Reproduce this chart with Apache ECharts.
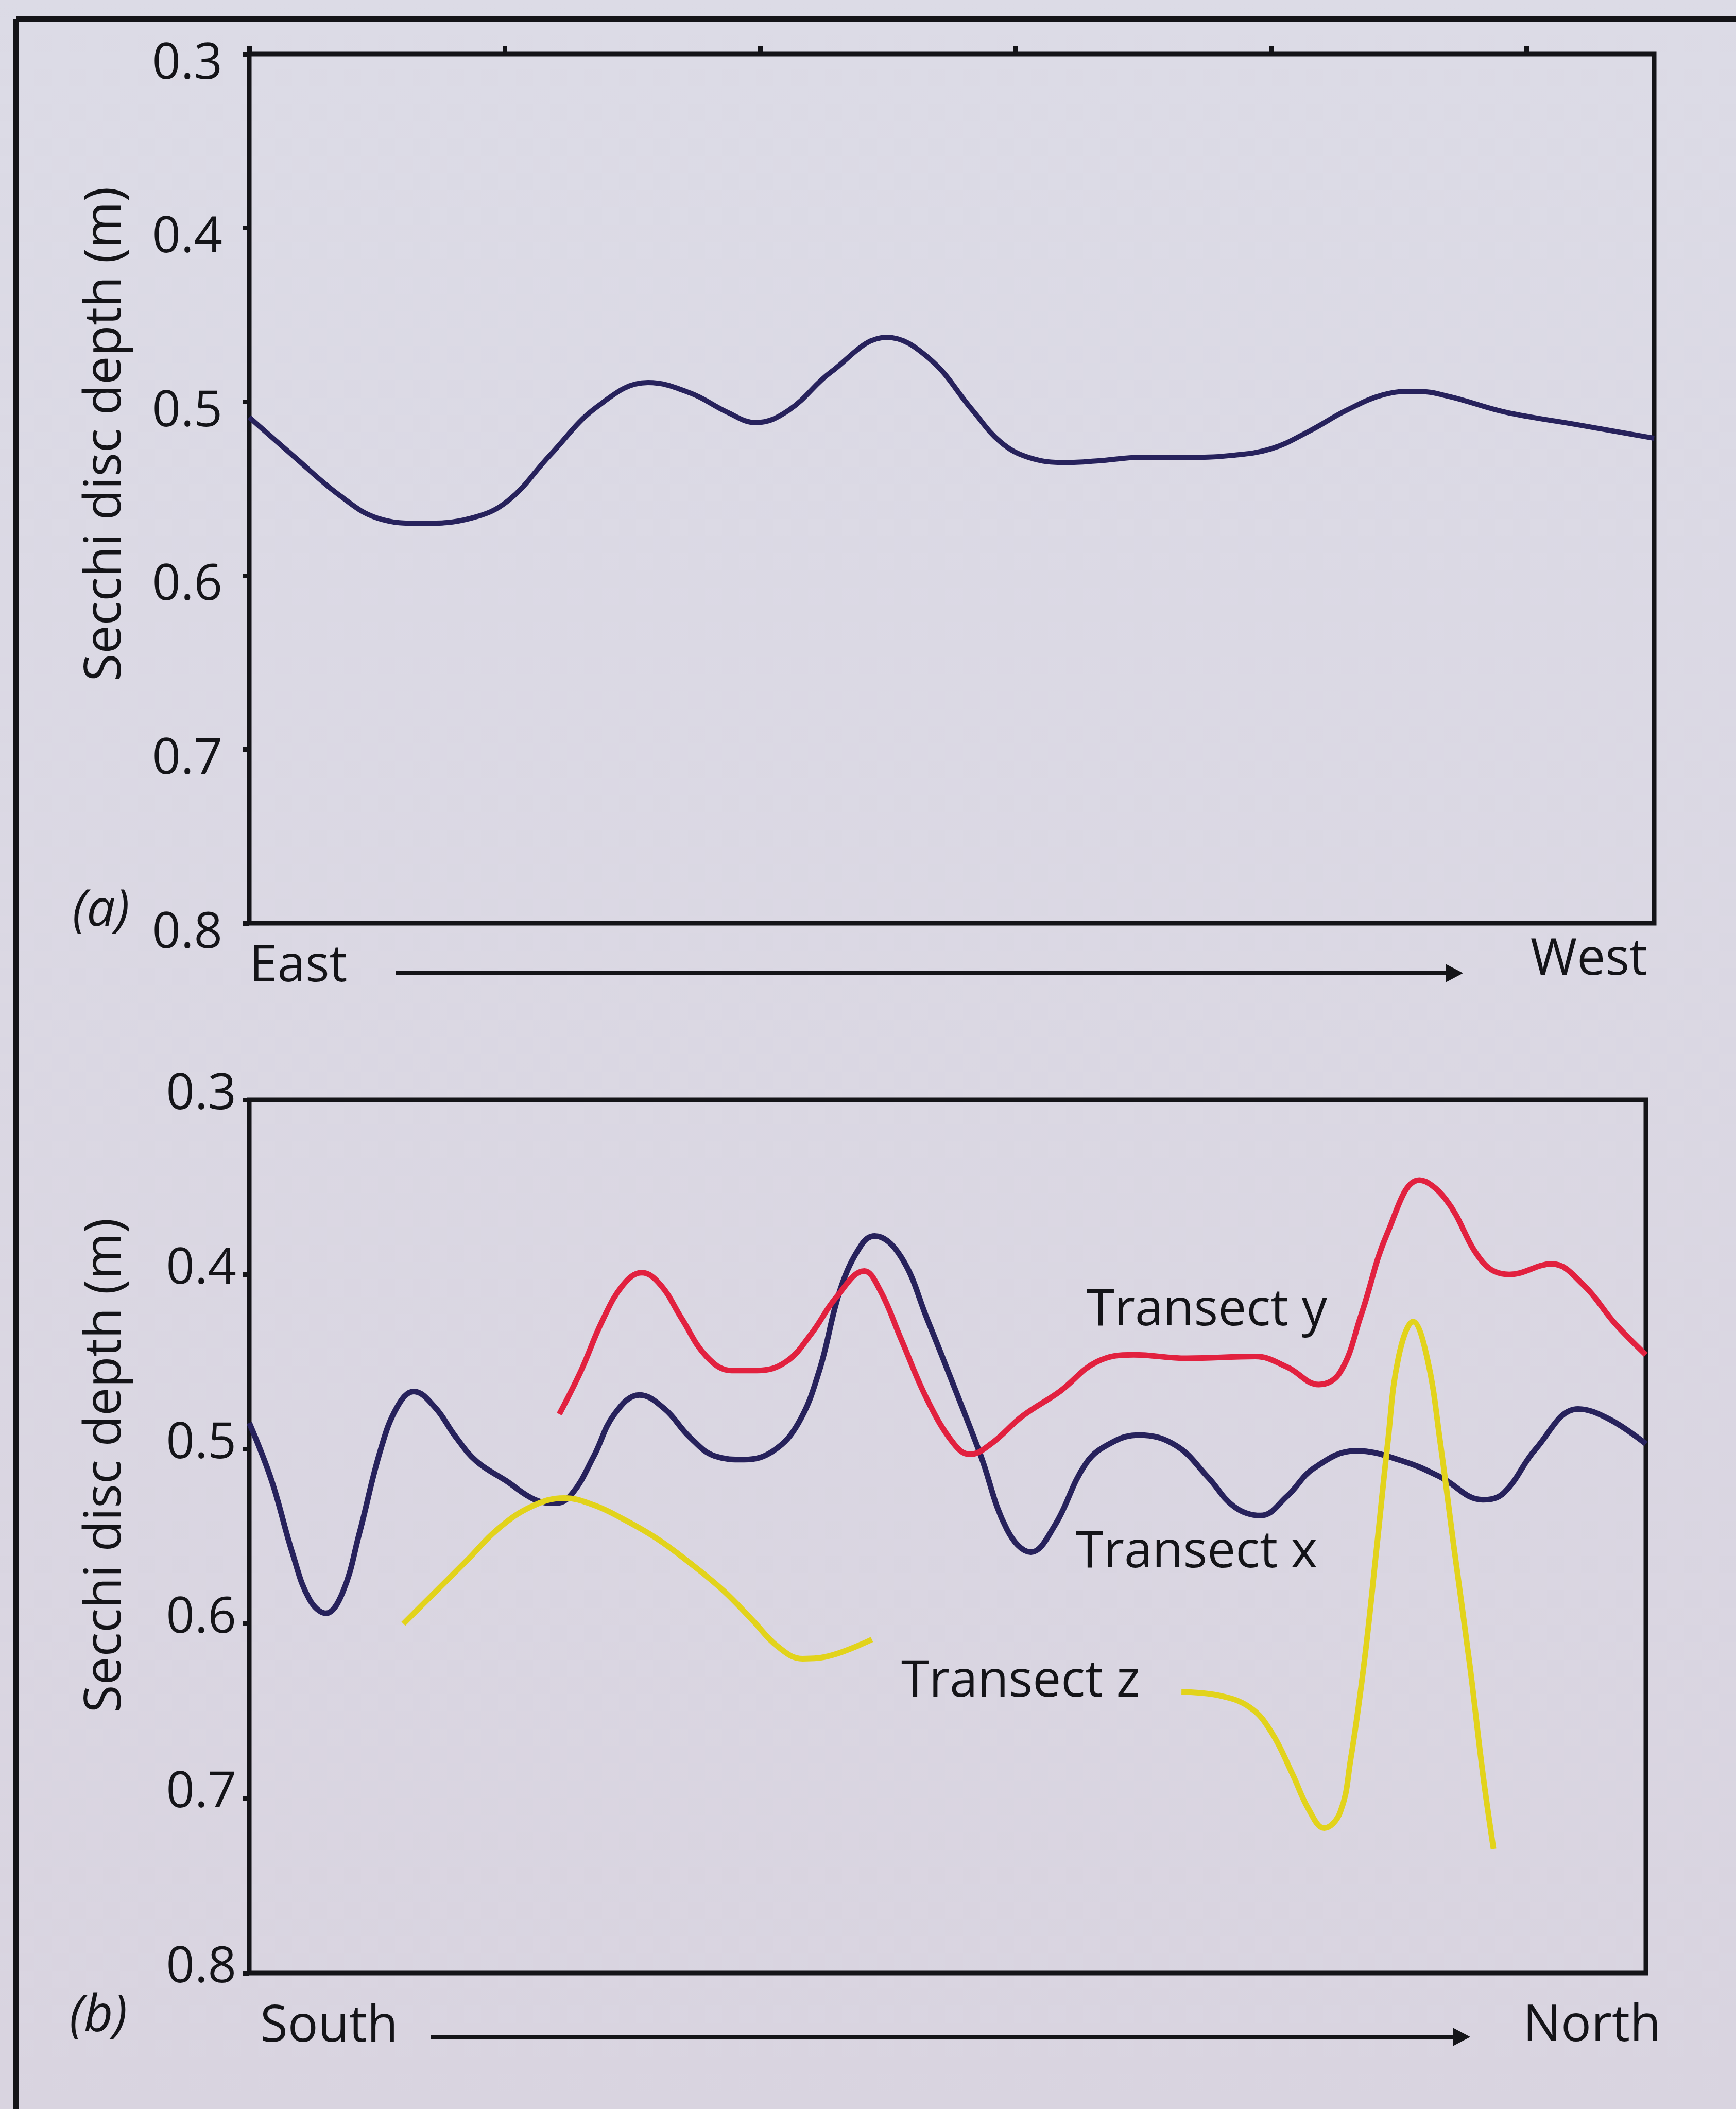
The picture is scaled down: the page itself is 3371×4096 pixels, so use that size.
<!DOCTYPE html>
<html>
<head>
<meta charset="utf-8">
<script src="https://cdn.jsdelivr.net/npm/echarts@6/dist/echarts.min.js"></script>
<style>
  html, body { margin: 0; padding: 0; background: #dad8e3; }
  #chart { width: 3371px; height: 4096px; }
</style>
</head>
<body>
<div id="chart"></div>
<script>
// Secchi disc depth profiles along two transect directions.
// Positions are relative distances along each transect (0 = East / South end).

const depthTicks = [0.3, 0.4, 0.5, 0.6, 0.7, 0.8];
const distanceTicks = [0, 1, 2, 3, 4, 5];

// (a) East -> West transect
const eastWestPos = [0, 0.171, 0.355, 0.503, 0.676, 0.869, 1.013, 1.176, 1.361, 1.561, 1.727, 1.871, 1.982, 2.111, 2.277, 2.496, 2.661, 2.832, 2.94, 3.05, 3.198, 3.324, 3.491, 3.672, 3.838, 4.002, 4.149, 4.295, 4.44, 4.57, 4.698, 4.917, 5.191, 5.5];
const eastWestDepth = [0.509, 0.531, 0.554, 0.567, 0.570, 0.567, 0.557, 0.531, 0.503, 0.489, 0.495, 0.506, 0.512, 0.505, 0.483, 0.463, 0.475, 0.505, 0.523, 0.532, 0.535, 0.534, 0.532, 0.532, 0.531, 0.527, 0.517, 0.505, 0.496, 0.494, 0.497, 0.506, 0.513, 0.521];

// (b) South -> North transects
const transectXPos = [0, 0.088, 0.171, 0.237, 0.302, 0.368, 0.434, 0.516, 0.582, 0.648, 0.731, 0.813, 0.895, 1.010, 1.125, 1.208, 1.274, 1.357, 1.438, 1.537, 1.636, 1.734, 1.834, 1.949, 2.064, 2.163, 2.245, 2.329, 2.411, 2.463, 2.567, 2.671, 2.775, 2.879, 2.984, 3.078, 3.171, 3.296, 3.400, 3.504, 3.650, 3.775, 3.879, 3.983, 4.087, 4.192, 4.358, 4.546, 4.691, 4.858, 4.941, 5.066, 5.233, 5.358, 5.5];
const transectXDepth = [0.485, 0.518, 0.560, 0.586, 0.594, 0.582, 0.548, 0.501, 0.476, 0.467, 0.476, 0.493, 0.507, 0.518, 0.529, 0.531, 0.525, 0.504, 0.480, 0.469, 0.477, 0.493, 0.504, 0.506, 0.501, 0.485, 0.455, 0.408, 0.383, 0.378, 0.390, 0.426, 0.464, 0.503, 0.546, 0.559, 0.544, 0.508, 0.496, 0.492, 0.498, 0.516, 0.533, 0.538, 0.527, 0.511, 0.501, 0.507, 0.516, 0.529, 0.525, 0.500, 0.477, 0.483, 0.497];

const transectYPos = [1.221, 1.307, 1.389, 1.472, 1.546, 1.620, 1.702, 1.801, 1.900, 1.999, 2.114, 2.213, 2.312, 2.422, 2.484, 2.567, 2.671, 2.775, 2.838, 2.921, 3.046, 3.192, 3.338, 3.483, 3.692, 3.962, 4.087, 4.212, 4.296, 4.379, 4.483, 4.608, 4.712, 4.858, 4.962, 5.129, 5.254, 5.378, 5.5];
const transectYDepth = [0.480, 0.455, 0.427, 0.406, 0.399, 0.406, 0.425, 0.447, 0.455, 0.455, 0.450, 0.434, 0.413, 0.398, 0.409, 0.437, 0.472, 0.497, 0.503, 0.497, 0.481, 0.467, 0.450, 0.446, 0.448, 0.447, 0.453, 0.463, 0.456, 0.423, 0.376, 0.346, 0.357, 0.393, 0.400, 0.394, 0.406, 0.428, 0.446];

// Transect z was sampled in two separate stretches
const transectZSouthPos = [0.607, 0.731, 0.862, 0.977, 1.110, 1.241, 1.356, 1.472, 1.603, 1.734, 1.867, 1.982, 2.081, 2.179, 2.295, 2.452];
const transectZSouthDepth = [0.600, 0.582, 0.563, 0.546, 0.533, 0.528, 0.532, 0.540, 0.551, 0.565, 0.581, 0.598, 0.613, 0.620, 0.618, 0.609];
const transectZNorthPos = [3.671, 3.817, 3.942, 4.025, 4.108, 4.171, 4.233, 4.296, 4.337, 4.390, 4.441, 4.483, 4.525, 4.583, 4.639, 4.691, 4.743, 4.806, 4.858, 4.900];
const transectZNorthDepth = [0.639, 0.641, 0.648, 0.662, 0.686, 0.706, 0.717, 0.708, 0.678, 0.623, 0.555, 0.497, 0.448, 0.427, 0.448, 0.497, 0.555, 0.623, 0.686, 0.729];

const INK = '#141418';
const NAVY = '#27225c';
const RED = '#e2213f';
const YELLOW = '#e2d31b';
const FONT = '"Open Sans", "Noto Sans", sans-serif';
const TEXT_SIZE = 98;
const TICK_SIZE = 97;

const zip = (xs, ys) => xs.map((x, i) => [x, ys[i]]);

// Depth axis; tick labels hang slightly off their tick via a short line box
function depthAxis(gridIndex, margin, vAlign, lineHeight) {
  return {
    type: 'value', gridIndex: gridIndex, inverse: true,
    min: 0.3, max: 0.8, interval: 0.1,
    axisLine: { show: false },
    axisTick: { show: true, inside: false, length: 12, customValues: depthTicks,
                lineStyle: { color: INK, width: 9 } },
    splitLine: { show: false },
    axisLabel: { show: true, margin: margin, color: INK, fontFamily: FONT, fontSize: TICK_SIZE,
                 customValues: depthTicks, verticalAlign: vAlign, lineHeight: lineHeight,
                 formatter: v => v.toFixed(1) }
  };
}

function arrow(x1, x2, y) {
  return {
    type: 'group', children: [
      { type: 'line', shape: { x1: x1, y1: y, x2: x2 - 26, y2: y },
        style: { stroke: INK, lineWidth: 8 } },
      { type: 'polygon', shape: { points: [[x2, y], [x2 - 34, y - 18], [x2 - 34, y + 18]] },
        style: { fill: INK } }
    ]
  };
}

function label(text, x, y, align, extra) {
  return Object.assign({
    type: 'text', x: x, y: y,
    style: { text: text, fill: INK, fontFamily: FONT, fontSize: TEXT_SIZE,
             align: align, verticalAlign: 'middle' }
  }, extra || {});
}

const chart = echarts.init(document.getElementById('chart'), null, { renderer: 'canvas' });

chart.setOption({
  animation: false,
  backgroundColor: {
    type: 'linear', x: 0, y: 0, x2: 0, y2: 1,
    colorStops: [{ offset: 0, color: '#dcdbe6' }, { offset: 1, color: '#d9d4e0' }]
  },
  grid: [
    { left: 484, top: 105, width: 2728, height: 1688, show: true,
      borderColor: INK, borderWidth: 9, backgroundColor: 'transparent',
      containLabel: false, outerBoundsMode: 'none' },
    { left: 484, top: 2136, width: 2712, height: 1696, show: true,
      borderColor: INK, borderWidth: 9, backgroundColor: 'transparent',
      containLabel: false, outerBoundsMode: 'none' }
  ],
  xAxis: [
    { type: 'value', gridIndex: 0, position: 'top', min: 0, max: 5.5, interval: 1,
      axisLine: { show: false },
      axisTick: { show: true, inside: false, length: 16, customValues: distanceTicks,
                  lineStyle: { color: INK, width: 9 } },
      axisLabel: { show: false }, splitLine: { show: false } },
    { type: 'value', gridIndex: 1, min: 0, max: 5.5, interval: 1,
      axisLine: { show: false }, axisTick: { show: false },
      axisLabel: { show: false }, splitLine: { show: false } }
  ],
  yAxis: [
    depthAxis(0, 52, 'top', 40),
    depthAxis(1, 25, 'bottom', 20)
  ],
  series: [
    { name: 'East-West', type: 'line', xAxisIndex: 0, yAxisIndex: 0,
      data: zip(eastWestPos, eastWestDepth), smooth: 0.4, showSymbol: false,
      lineStyle: { color: NAVY, width: 10 } },
    { name: 'Transect x', type: 'line', xAxisIndex: 1, yAxisIndex: 1,
      data: zip(transectXPos, transectXDepth), smooth: 0.4, showSymbol: false,
      lineStyle: { color: NAVY, width: 11 } },
    { name: 'Transect y', type: 'line', xAxisIndex: 1, yAxisIndex: 1,
      data: zip(transectYPos, transectYDepth), smooth: 0.4, showSymbol: false,
      lineStyle: { color: RED, width: 11 } },
    { name: 'Transect z', type: 'line', xAxisIndex: 1, yAxisIndex: 1,
      data: zip(transectZSouthPos, transectZSouthDepth), smooth: 0.4, showSymbol: false,
      lineStyle: { color: YELLOW, width: 11 } },
    { name: 'Transect z', type: 'line', xAxisIndex: 1, yAxisIndex: 1,
      data: zip(transectZNorthPos, transectZNorthDepth), smooth: 0.4, showSymbol: false,
      lineStyle: { color: YELLOW, width: 11 } }
  ],
  graphic: [
    // outer figure frame
    { type: 'line', shape: { x1: 31, y1: 37, x2: 3371, y2: 37 }, style: { stroke: INK, lineWidth: 11 } },
    { type: 'line', shape: { x1: 31, y1: 37, x2: 31, y2: 4096 }, style: { stroke: INK, lineWidth: 11 } },

    // axis titles
    label('Secchi disc depth (m)', 206, 843, 'center', { rotation: Math.PI / 2 }),
    label('Secchi disc depth (m)', 206, 2846, 'center', { rotation: Math.PI / 2 }),

    // panel (a)
    { type: 'text', x: 196, y: 1770,
      style: { text: '(a)', fill: INK, fontFamily: FONT, fontSize: TEXT_SIZE, fontStyle: 'italic',
               align: 'center', verticalAlign: 'middle' } },
    label('East', 484, 1878, 'left'),
    label('West', 3199, 1865, 'right'),
    arrow(768, 2841, 1890),

    // panel (b)
    { type: 'text', x: 191, y: 3917,
      style: { text: '(b)', fill: INK, fontFamily: FONT, fontSize: TEXT_SIZE, fontStyle: 'italic',
               align: 'center', verticalAlign: 'middle' } },
    label('South', 505, 3937, 'left'),
    label('North', 3225, 3936, 'right'),
    arrow(836, 2855, 3956),

    // series labels
    label('Transect y', 2110, 2546, 'left'),
    label('Transect x', 2089, 3016, 'left'),
    label('Transect z', 1750, 3267, 'left')
  ]
});
</script>
</body>
</html>
